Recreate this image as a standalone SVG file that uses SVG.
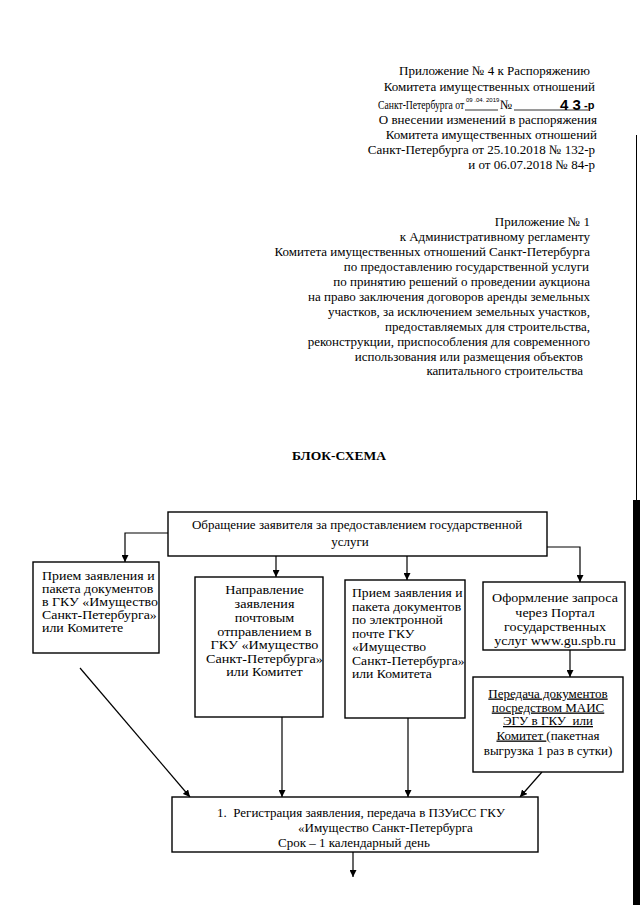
<svg xmlns="http://www.w3.org/2000/svg" width="640" height="905" viewBox="0 0 640 905">
<defs>
<style>
text{font-family:"Liberation Serif","Times New Roman",serif;fill:#000}
.h{font-size:13px}
.m{font-size:13px}
.box{fill:#fff;stroke:#000;stroke-width:1.4}
.ln{fill:none;stroke:#000;stroke-width:1.2}
.u{text-decoration:underline}
</style>
<marker id="ar" viewBox="0 0 10 10" refX="10" refY="5" markerWidth="7" markerHeight="7" markerUnits="userSpaceOnUse" orient="auto">
<path d="M0,0 L10,5 L0,10 Z" fill="#000"/>
</marker>
</defs>
<rect width="640" height="905" fill="#fff"/>
<rect x="633" y="500" width="7" height="405" fill="#000"/>
<line x1="636.5" y1="135" x2="636.5" y2="500" stroke="#000" stroke-width="1"/>

<g id="header1" text-anchor="end">
<text x="590" y="75" class="h">Приложение № 4 к Распоряжению</text>
<text x="595" y="91" class="h">Комитета имущественных отношений</text>
<text x="597" y="124" class="h">О внесении изменений в распоряжения</text>
<text x="597" y="139" class="h">Комитета имущественных отношений</text>
<text x="595" y="154" class="h">Санкт-Петербурга от 25.10.2018 № 132-р</text>
<text x="595" y="169" class="h">и от 06.07.2018 № 84-р</text>
</g>
<g id="header1-date">
<g transform="translate(378,0) scale(0.84,1) translate(-378,0)">
<text x="378" y="109" style="font-size:11.5px">Санкт-Петербурга от</text>
</g>
<line x1="465" y1="110" x2="498" y2="110" stroke="#000" stroke-width="0.8"/>
<text x="466" y="102" style="font-family:'Liberation Sans',sans-serif;font-size:6px">09 .04. 2019</text>
<text x="500" y="109" class="h">№</text>
<line x1="514" y1="110" x2="588" y2="110" stroke="#000" stroke-width="0.8"/>
<text x="560" y="110" style="font-family:'Liberation Sans',sans-serif;font-size:15px;font-weight:bold">4 3</text>
<text x="584" y="109" style="font-family:'Liberation Sans',sans-serif;font-size:11px;font-weight:bold">-р</text>
</g>

<g id="header2" text-anchor="end">
<text x="590" y="226" class="h">Приложение № 1</text>
<text x="590" y="241" class="h">к Административному регламенту</text>
<text x="590" y="256" class="h">Комитета имущественных отношений Санкт-Петербурга</text>
<text x="589" y="271" class="h">по предоставлению государственной услуги</text>
<text x="590" y="286" class="h">по принятию решений о проведении аукциона</text>
<text x="590" y="301" class="h">на право заключения договоров аренды земельных</text>
<text x="590" y="316" class="h">участков, за исключением земельных участков,</text>
<text x="590" y="331" class="h">предоставляемых для строительства,</text>
<text x="590" y="346" class="h">реконструкции, приспособления для современного</text>
<text x="583" y="361" class="h">использования или размещения объектов</text>
<text x="583" y="375" class="h">капитального строительства</text>
</g>

<g id="title">
<text x="292" y="460" style="font-size:13.5px;font-weight:bold">БЛОК-СХЕМА</text>
</g>

<g id="connectors">
<polyline class="ln" points="168,533 125,533 125,562" marker-end="url(#ar)"/>
<polyline class="ln" points="547,547 580,547 580,582" marker-end="url(#ar)"/>
<line class="ln" x1="276" y1="556" x2="276" y2="577" marker-end="url(#ar)"/>
<line class="ln" x1="407" y1="556" x2="407" y2="580" marker-end="url(#ar)"/>
<line class="ln" x1="570" y1="650" x2="570" y2="677" marker-end="url(#ar)"/>
<line class="ln" x1="80" y1="668" x2="190" y2="797" marker-end="url(#ar)"/>
<line class="ln" x1="282" y1="717" x2="282" y2="797" marker-end="url(#ar)"/>
<line class="ln" x1="408" y1="718" x2="408" y2="797" marker-end="url(#ar)"/>
<line class="ln" x1="542" y1="772" x2="520" y2="797" marker-end="url(#ar)"/>
<line class="ln" x1="353" y1="852" x2="353" y2="877" marker-end="url(#ar)"/>
</g>

<g id="n-start" text-anchor="middle">
<rect class="box" x="168" y="512" width="379" height="44"/>
<text x="357" y="529" class="m">Обращение заявителя за предоставлением государственной</text>
<text x="350" y="546" class="m">услуги</text>
</g>

<g id="n-gku">
<rect class="box" x="33" y="562" width="126" height="91"/>
<g transform="translate(42,0) scale(1.07,1) translate(-42,0)">
<text x="42" y="580.5" class="m">Прием заявления и</text>
<text x="42" y="593.5" class="m">пакета документов</text>
<text x="42" y="606.5" class="m">в ГКУ «Имущество</text>
<text x="42" y="619.5" class="m">Санкт-Петербурга»</text>
<text x="42" y="632.5" class="m">или Комитете</text>
</g>
</g>

<g id="n-post" text-anchor="middle">
<rect class="box" x="195" y="577" width="128" height="140"/>
<g transform="translate(264.5,0) scale(1.09,1) translate(-264.5,0)">
<text x="264.5" y="594.5" class="m">Направление</text>
<text x="264.5" y="608.5" class="m">заявления</text>
<text x="264.5" y="622.5" class="m">почтовым</text>
<text x="264.5" y="636" class="m">отправлением в</text>
<text x="264.5" y="649.5" class="m">ГКУ «Имущество</text>
<text x="264.5" y="663" class="m">Санкт-Петербурга»</text>
<text x="264.5" y="676.5" class="m">или Комитет</text>
</g>
</g>

<g id="n-email">
<rect class="box" x="345" y="580" width="120" height="138"/>
<g transform="translate(352,0) scale(1.05,1) translate(-352,0)">
<text x="352" y="597.5" class="m">Прием заявления и</text>
<text x="352" y="611" class="m">пакета документов</text>
<text x="352" y="624.5" class="m">по электронной</text>
<text x="352" y="638" class="m">почте ГКУ</text>
<text x="352" y="651.5" class="m">«Имущество</text>
<text x="352" y="665" class="m">Санкт-Петербурга»</text>
<text x="352" y="678.5" class="m">или Комитета</text>
</g>
</g>

<g id="n-portal" text-anchor="middle">
<rect class="box" x="483" y="582" width="142" height="68"/>
<g transform="translate(555,0) scale(1.08,1) translate(-555,0)">
<text x="555" y="602.5" class="m">Оформление запроса</text>
<text x="555" y="617" class="m">через Портал</text>
<text x="555" y="631" class="m">государственных</text>
<text x="555" y="645" class="m">услуг www.gu.spb.ru</text>
</g>
</g>

<g id="n-mais" text-anchor="middle">
<rect class="box" x="473" y="677" width="150" height="95"/>
<text x="548" y="697.5" class="m u">Передача документов</text>
<text x="548" y="711.5" class="m u">посредством МАИС</text>
<text x="548" y="725" class="m" xml:space="preserve"><tspan class="u">ЭГУ в ГКУ  или</tspan></text>
<text x="548" y="739.5" class="m"><tspan class="u">Комитет </tspan>(пакетная</text>
<text x="548" y="754.5" class="m">выгрузка 1 раз в сутки)</text>
</g>

<g id="n-reg">
<rect class="box" x="172" y="797" width="366" height="55"/>
<text x="217" y="816.5" class="m" xml:space="preserve">1.  Регистрация заявления, передача в ПЗУиСС ГКУ</text>
<text x="298" y="831.5" class="m">«Имущество Санкт-Петербурга</text>
<text x="278" y="846.5" class="m">Срок – 1 календарный день</text>
</g>
</svg>
